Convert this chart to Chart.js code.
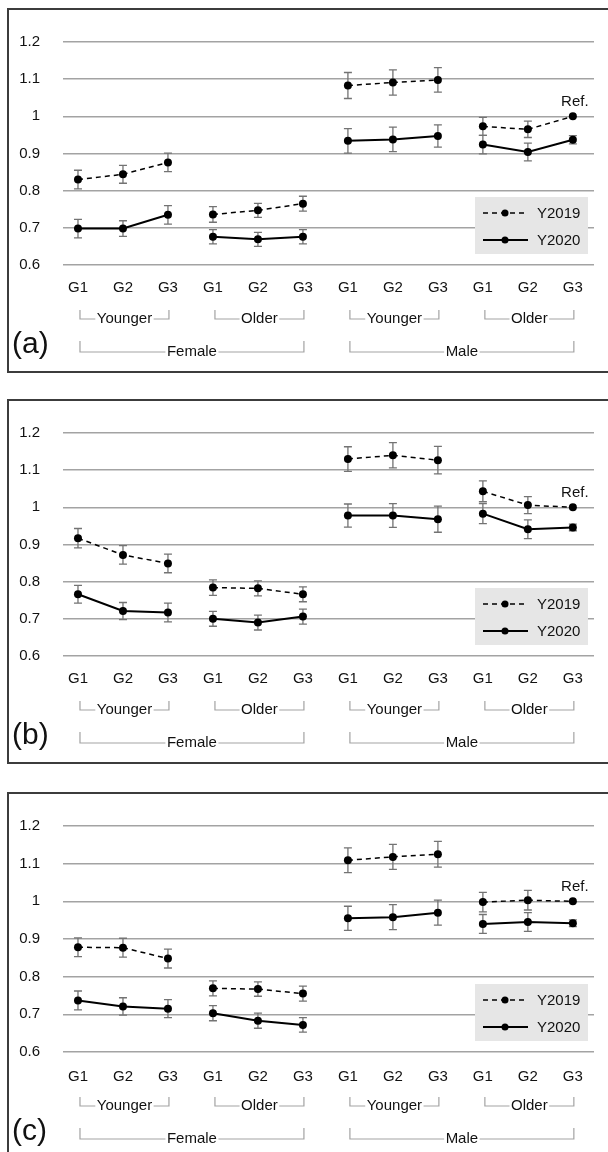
<!DOCTYPE html>
<html>
<head>
<meta charset="utf-8">
<script src="https://cdn.jsdelivr.net/npm/chart.js@4.4.1/dist/chart.umd.min.js"></script>
<style>
  body { margin: 0; background: #fff; width: 608px; height: 1152px; overflow: hidden; position: relative; }
  .panel { position: absolute; left: 7px; width: 640px; height: 361px; border: 2px solid #3c3c3c; }
  .panel canvas { position: absolute; left: 0; top: 0; }
</style>
</head>
<body>
<div class="panel" style="top:8px"><canvas id="chartA" width="599" height="361"></canvas></div>
<div class="panel" style="top:399px"><canvas id="chartB" width="599" height="361"></canvas></div>
<div class="panel" style="top:792px"><canvas id="chartC" width="599" height="361"></canvas></div>
<script>
// categories and group labels
const categories = ["G1", "G2", "G3", "G1", "G2", "G3", "G1", "G2", "G3", "G1", "G2", "G3"];
const ageLabels = ["Younger", "Older", "Younger", "Older"];
const sexLabels = ["Female", "Male"];
const seriesNames = ["Y2019", "Y2020"];
const yTicks = [0.6, 0.7, 0.8, 0.9, 1.0, 1.1, 1.2];

// panel (a)
const a2019 = [0.830, 0.844, 0.876, 0.736, 0.747, 0.765, 1.083, 1.091, 1.098, 0.973, 0.965, 1.000];
const a2019Err = [0.025, 0.024, 0.025, 0.021, 0.019, 0.020, 0.035, 0.034, 0.033, 0.024, 0.022, 0];
const a2020 = [0.698, 0.698, 0.735, 0.676, 0.669, 0.676, 0.934, 0.938, 0.947, 0.924, 0.904, 0.937];
const a2020Err = [0.025, 0.021, 0.025, 0.019, 0.019, 0.019, 0.033, 0.033, 0.030, 0.025, 0.024, 0.011];

// panel (b)
const b2019 = [0.917, 0.872, 0.849, 0.784, 0.782, 0.766, 1.130, 1.140, 1.127, 1.043, 1.006, 1.000];
const b2019Err = [0.026, 0.025, 0.025, 0.021, 0.020, 0.020, 0.033, 0.034, 0.037, 0.028, 0.023, 0];
const b2020 = [0.766, 0.721, 0.717, 0.700, 0.690, 0.706, 0.978, 0.978, 0.968, 0.983, 0.941, 0.946];
const b2020Err = [0.024, 0.023, 0.025, 0.020, 0.020, 0.020, 0.031, 0.032, 0.035, 0.027, 0.025, 0.009];

// panel (c)
const c2019 = [0.878, 0.877, 0.848, 0.769, 0.767, 0.755, 1.109, 1.118, 1.125, 0.998, 1.003, 1.000];
const c2019Err = [0.025, 0.025, 0.025, 0.020, 0.019, 0.020, 0.033, 0.033, 0.034, 0.026, 0.026, 0];
const c2020 = [0.737, 0.721, 0.715, 0.703, 0.683, 0.672, 0.955, 0.958, 0.970, 0.940, 0.945, 0.942];
const c2020Err = [0.025, 0.023, 0.024, 0.020, 0.020, 0.019, 0.032, 0.033, 0.033, 0.025, 0.025, 0.009];

const FONT = "'Liberation Sans', Arial, sans-serif";
const GRID = "#a3a3a3";

function bracket(ctx, x0, x1, yTop, yLine, label) {
  ctx.font = "15px " + FONT;
  const w = ctx.measureText(label).width;
  const mid = (x0 + x1) / 2;
  ctx.strokeStyle = GRID;
  ctx.lineWidth = 1.2;
  ctx.beginPath();
  ctx.moveTo(x0, yTop);
  ctx.lineTo(x0, yLine);
  ctx.lineTo(mid - w / 2 - 1.5, yLine);
  ctx.moveTo(mid + w / 2 + 1.5, yLine);
  ctx.lineTo(x1, yLine);
  ctx.lineTo(x1, yTop);
  ctx.stroke();
  ctx.fillStyle = "#111";
  ctx.textAlign = "center";
  ctx.textBaseline = "middle";
  ctx.fillText(label, mid, yLine);
}

const overlay = {
  id: "overlay",
  beforeDatasetsDraw(chart, args, opts) {
    // error bars behind the lines
    const { ctx } = chart;
    const xs = chart.scales.x, ys = chart.scales.y;
    ctx.save();
    ctx.strokeStyle = "#737373";
    ctx.lineWidth = 1.3;
    opts.errors.forEach((errs, d) => {
      const pts = chart.data.datasets[d].data;
      errs.forEach((e, i) => {
        if (!e) return;
        const px = xs.getPixelForValue(i);
        const top = ys.getPixelForValue(pts[i].y + e);
        const bot = ys.getPixelForValue(pts[i].y - e);
        ctx.beginPath();
        ctx.moveTo(px, top); ctx.lineTo(px, bot);
        ctx.moveTo(px - 4, top); ctx.lineTo(px + 4, top);
        ctx.moveTo(px - 4, bot); ctx.lineTo(px + 4, bot);
        ctx.stroke();
      });
    });
    ctx.restore();
  },
  afterDraw(chart, args, opts) {
    const { ctx, chartArea } = chart;
    const xs = chart.scales.x;
    const B = chartArea.bottom;
    ctx.save();

    // group brackets
    ageLabels.forEach((lab, g) => {
      bracket(ctx, xs.getPixelForValue(g * 3) + 2, xs.getPixelForValue(g * 3 + 2) + 1, B + 45, B + 54, lab);
    });
    sexLabels.forEach((lab, s) => {
      bracket(ctx, xs.getPixelForValue(s * 6) + 2, xs.getPixelForValue(s * 6 + 5) + 1, B + 76, B + 87, lab);
    });

    // Ref. label over the reference point
    const ref = chart.getDatasetMeta(0).data[categories.length - 1];
    ctx.font = "15px " + FONT;
    ctx.fillStyle = "#111";
    ctx.textAlign = "center";
    ctx.textBaseline = "middle";
    ctx.fillText("Ref.", ref.x + 2, ref.y - 14.5);

    // legend
    const bw = 113, bh = 57;
    const bx = chartArea.right - 6 - bw, by = B - 11 - bh;
    ctx.fillStyle = "#e6e6e6";
    ctx.fillRect(bx, by, bw, bh);
    seriesNames.forEach((name, d) => {
      const ry = by + 16 + d * 27;
      ctx.strokeStyle = "#000";
      ctx.lineWidth = d ? 2 : 1.5;
      ctx.setLineDash(d ? [] : [5, 4]);
      ctx.beginPath();
      ctx.moveTo(bx + 8, ry);
      ctx.lineTo(bx + 53, ry);
      ctx.stroke();
      ctx.setLineDash([]);
      ctx.fillStyle = "#000";
      ctx.beginPath();
      ctx.arc(bx + 30, ry, 3.5, 0, Math.PI * 2);
      ctx.fill();
      ctx.fillStyle = "#111";
      ctx.textAlign = "left";
      ctx.fillText(name, bx + 62, ry + 1);
    });

    // panel tag
    ctx.font = "30px " + FONT;
    ctx.fillStyle = "#111";
    ctx.textAlign = "left";
    ctx.fillText(opts.tag, 3, B + 80);
    ctx.restore();
  }
};

function makeChart(id, tag, v2019, e2019, v2020, e2020, layout) {
  const ctx = document.getElementById(id).getContext("2d");
  const toPoints = (vals) => vals.map((v, i) => ({ x: i, y: v }));
  // no line between G3 of one age group and G1 of the next
  const gap = (color) => (c) => (c.p0DataIndex % 3 === 2 ? "transparent" : color);
  return new Chart(ctx, {
    type: "line",
    data: {
      datasets: [
        {
          label: seriesNames[0],
          data: toPoints(v2019),
          borderColor: "#000",
          borderWidth: 1.5,
          borderDash: [5, 4],
          pointRadius: 4,
          pointBackgroundColor: "#000",
          pointBorderWidth: 0,
          segment: { borderColor: gap("#000") },
        },
        {
          label: seriesNames[1],
          data: toPoints(v2020),
          borderColor: "#000",
          borderWidth: 2,
          pointRadius: 4,
          pointBackgroundColor: "#000",
          pointBorderWidth: 0,
          segment: { borderColor: gap("#000") },
        },
      ],
    },
    options: {
      responsive: false,
      animation: false,
      layout: { padding: { top: layout.top, right: 14, left: 0, bottom: 0 } },
      plugins: {
        legend: { display: false },
        tooltip: { enabled: false },
        overlay: { errors: [e2019, e2020], tag: tag },
      },
      scales: {
        x: {
          type: "linear",
          min: -0.333,
          max: 11.47,
          grid: { display: false },
          border: { display: false },
          afterBuildTicks: (axis) => {
            axis.ticks = categories.map((c, i) => ({ value: i }));
          },
          afterFit: (axis) => {
            axis.height = layout.xHeight;
          },
          ticks: {
            autoSkip: false,
            maxRotation: 0,
            padding: layout.tickPad,
            color: "#111",
            font: { family: FONT, size: 15 },
            callback: (v) => categories[v],
          },
        },
        y: {
          min: 0.6,
          max: 1.2,
          grid: { color: GRID, lineWidth: 1.5, drawTicks: false },
          border: { display: false },
          afterBuildTicks: (axis) => {
            axis.ticks = yTicks.map((v) => ({ value: v }));
          },
          afterFit: (axis) => {
            axis.width = 54;
          },
          ticks: {
            padding: 23,
            color: "#111",
            font: { family: FONT, size: 15 },
            callback: (v) => String(+v.toFixed(1)),
          },
        },
      },
    },
    plugins: [overlay],
  });
}

makeChart("chartA", "(a)", a2019, a2019Err, a2020, a2020Err, { top: 19, xHeight: 106, tickPad: 6 });
makeChart("chartB", "(b)", b2019, b2019Err, b2020, b2020Err, { top: 20, xHeight: 106, tickPad: 6 });
makeChart("chartC", "(c)", c2019, c2019Err, c2020, c2020Err, { top: 18, xHeight: 103, tickPad: 8 });
</script>
</body>
</html>
